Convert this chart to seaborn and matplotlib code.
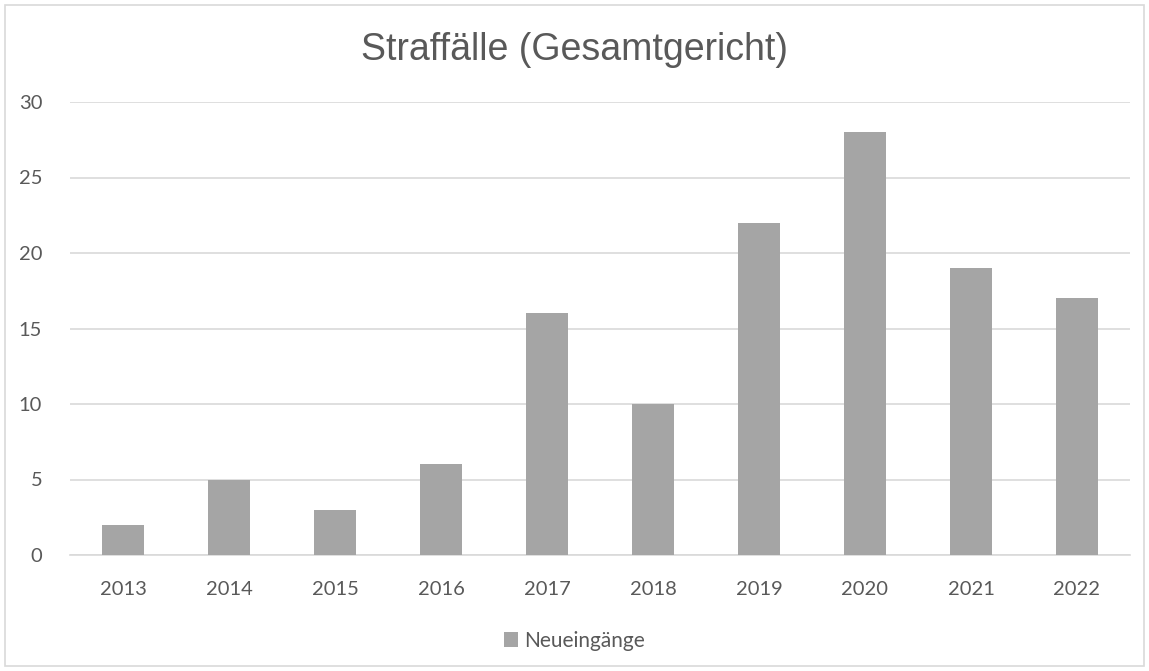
import pandas as pd
import matplotlib
matplotlib.use("Agg")
import matplotlib.pyplot as plt
import seaborn as sns
from matplotlib.patches import Rectangle, Patch

# Daten
jahre = ["2013", "2014", "2015", "2016", "2017", "2018", "2019", "2020", "2021", "2022"]
neueingaenge = [2, 5, 3, 6, 16, 10, 22, 28, 19, 17]
y_ticks = [0, 5, 10, 15, 20, 25, 30]

df = pd.DataFrame({"Jahr": jahre, "Neueingänge": neueingaenge})

sns.set_style("white")
plt.rcParams['font.family'] = ['Lato', 'DejaVu Sans']

fig = plt.figure(figsize=(11.49, 6.71), dpi=100)
ax = fig.add_axes([70 / 1149, 1 - 555 / 671, 1060 / 1149, 453 / 671])

sns.barplot(data=df, x="Jahr", y="Neueingänge", color="#A5A5A5", saturation=1,
            width=0.4, ax=ax, zorder=3, linewidth=0, edgecolor="none")

ax.set_ylim(0, 30)
ax.set_yticks(y_ticks)
ax.set_xlim(-0.5, len(jahre) - 0.5)
ax.yaxis.grid(True, color="#D9D9D9", linewidth=1.2, zorder=0)
ax.set_axisbelow(True)
for side in ["top", "right", "left"]:
    ax.spines[side].set_visible(False)
ax.spines["bottom"].set_color("#D9D9D9")
ax.spines["bottom"].set_linewidth(1.2)
ax.tick_params(axis="both", length=0, labelsize=14.5, labelcolor="#595959")
ax.tick_params(axis="y", pad=20)
ax.tick_params(axis="x", pad=19)
ax.set_xlabel("")
ax.set_ylabel("")

fig.text(0.5, 1 - 50 / 671, "Straffälle (Gesamtgericht)", ha="center", va="center",
         fontsize=27, color="#595959", family=["Liberation Sans", "DejaVu Sans"])

handle = Patch(facecolor="#A5A5A5", edgecolor="none")
fig.legend([handle], ["Neueingänge"], loc="center", bbox_to_anchor=(0.5, 1 - 641 / 671),
           frameon=False, fontsize=15, labelcolor="#595959", handlelength=0.7,
           handleheight=0.7, handletextpad=0.3)

# Rahmen um das Diagramm
fig.patches.append(Rectangle((5 / 1149, 5 / 671), 1 - 10 / 1149, 1 - 10 / 671,
                             transform=fig.transFigure, fill=False,
                             edgecolor="#D9D9D9", linewidth=1.2))

fig.savefig("out.png", dpi=100)
plt.close()
